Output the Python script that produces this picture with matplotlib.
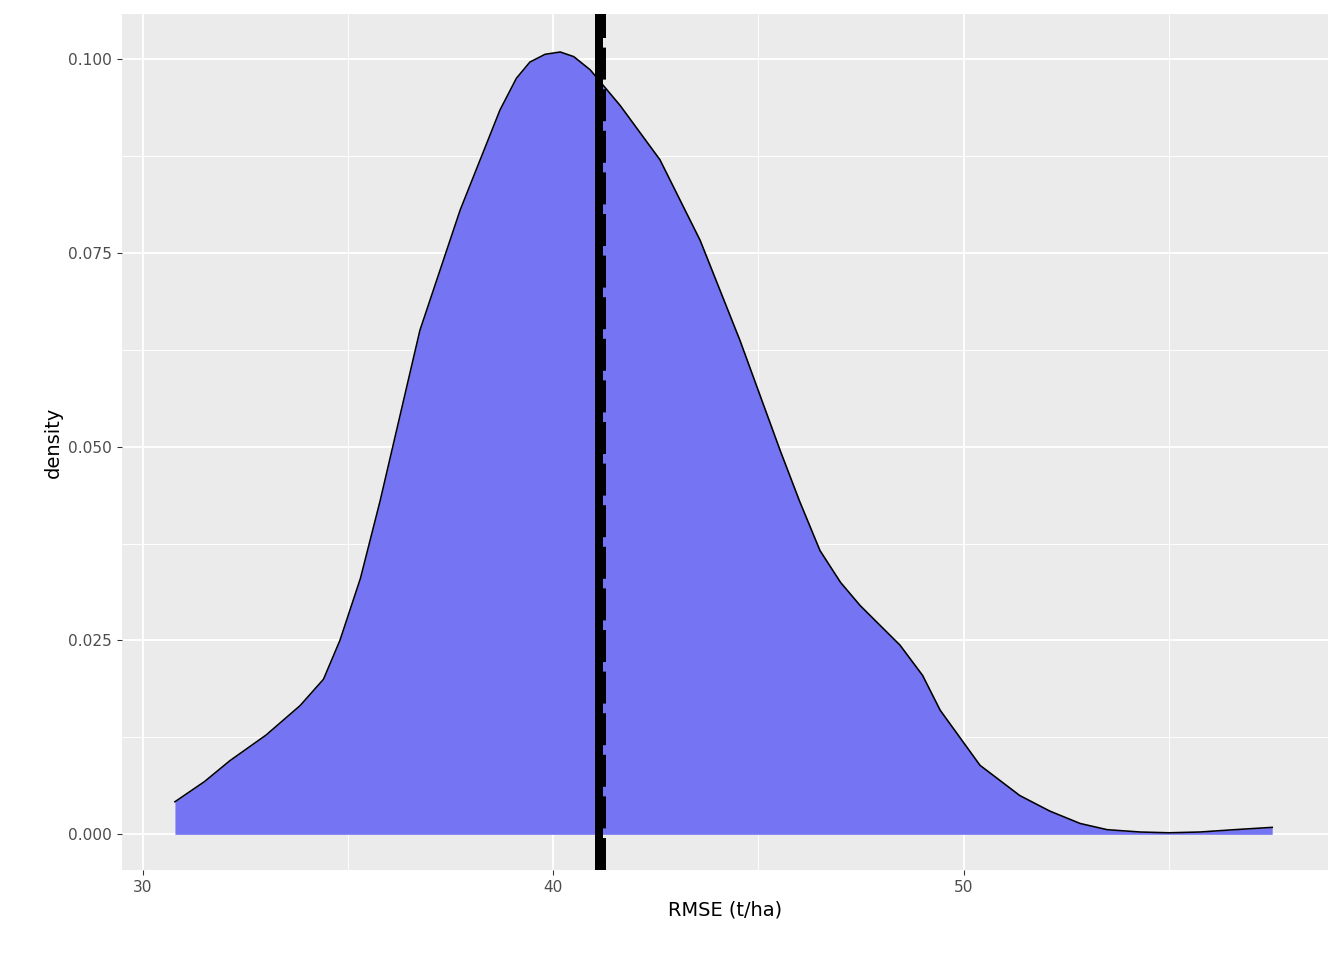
import matplotlib
matplotlib.use("Agg")
import matplotlib.pyplot as plt

rmse = [30.78, 31.5, 32.12, 33.0, 33.83, 34.4, 34.8, 35.3, 35.78, 36.75, 37.73, 38.7, 39.1, 39.43, 39.8, 40.17, 40.5, 40.9,
        41.63, 42.6, 43.58, 44.55, 45.53, 46.0, 46.5, 47.0, 47.48, 48.45, 49.0, 49.43, 50.4, 51.37, 52.1, 52.84,
        53.5, 54.3, 55.0, 55.76, 56.6, 57.52]
density = [0.0042, 0.0068, 0.0095, 0.0128, 0.0166, 0.0200, 0.0250, 0.0330, 0.0430, 0.0650, 0.0805, 0.0934, 0.0975, 0.0996,
           0.1006, 0.1009, 0.1003, 0.0986, 0.0940, 0.0870, 0.0766, 0.0637, 0.0495, 0.0430, 0.0366, 0.0325, 0.0295,
           0.0244, 0.0205, 0.0160, 0.0089, 0.0050, 0.0030, 0.0014, 0.0006, 0.0003, 0.0002, 0.0003, 0.0006, 0.0009]
solid_x = 41.11
dashed_x = 41.19

fig = plt.figure(figsize=(14, 10), dpi=96)
ax = fig.add_axes([122/1344, 90/960, (1328-122)/1344, (870-14)/960])
ax.set_facecolor("#EBEBEB")
ax.fill_between(rmse, 0, density, color="#7575F3", lw=0, zorder=2)
ax.plot(rmse, density, color="black", lw=1.2, zorder=3)
ax.axvline(solid_x, color="black", lw=6, zorder=4)
ax.axvline(dashed_x, color="black", lw=6, ls=(0, (4, 1.2)), zorder=4)

ax.set_xlim(29.49, 58.88)
ax.set_ylim(-0.0046, 0.1058)
ax.set_xticks([30, 40, 50])
ax.set_xticks([35, 45, 55], minor=True)
ax.set_yticks([0, 0.025, 0.05, 0.075, 0.1])
ax.set_yticks([0.0125, 0.0375, 0.0625, 0.0875], minor=True)
ax.set_yticklabels(["0.000", "0.025", "0.050", "0.075", "0.100"])
ax.grid(which="major", color="white", lw=1.4, zorder=0)
ax.grid(which="minor", color="white", lw=0.7, zorder=0)
ax.set_axisbelow(True)
for s in ax.spines.values():
    s.set_visible(False)
ax.tick_params(which="major", length=4, color="#333333", labelsize=11.5, labelcolor="#4D4D4D")
ax.tick_params(which="minor", length=0)
ax.set_xlabel("RMSE (t/ha)", fontsize=14.5)
ax.set_ylabel("density", fontsize=14.5)
fig.savefig("out.png", dpi=96)
